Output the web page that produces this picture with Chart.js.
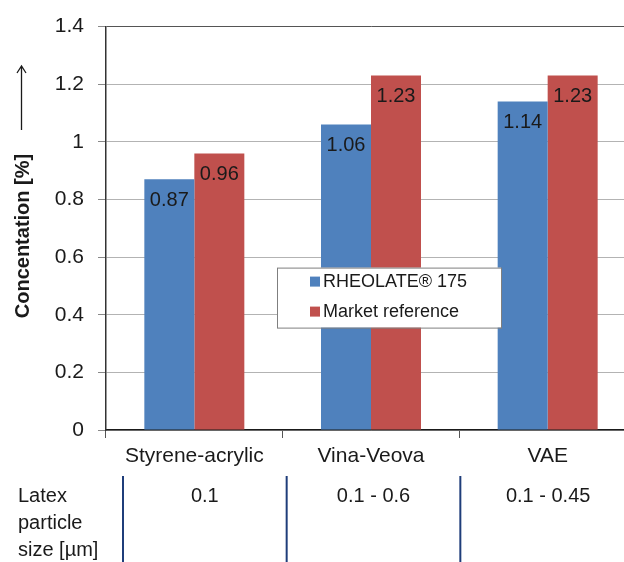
<!DOCTYPE html>
<html>
<head>
<meta charset="utf-8">
<script src="https://cdn.jsdelivr.net/npm/chart.js@4.4.1/dist/chart.umd.min.js"></script>
<style>
html,body{margin:0;padding:0;background:#fff;overflow:hidden;width:624px;height:562px;}
#wrap{position:absolute;left:0;top:0;width:636px;height:562px;}
</style>
</head>
<body>
<div id="wrap"><canvas id="c" width="636" height="562"></canvas></div>
<script>
const categories = ['Styrene-acrylic', 'Vina-Veova', 'VAE'];
const rheolateValues = [0.87, 1.06, 1.14];
const marketValues = [0.96, 1.23, 1.23];
const seriesLabels = ['RHEOLATE\u00AE 175', 'Market reference'];
const yTitle = 'Concentation [%]';
const tableHeader = ['Latex', 'particle', 'size [\u00B5m]'];
const particleSizes = ['0.1', '0.1 - 0.6', '0.1 - 0.45'];

const FONT = '"Liberation Sans", Arial, sans-serif';
const BLUE = '#4F81BD';
const RED = '#C0504D';

const decorPlugin = {
  id: 'decor',
  afterDatasetsDraw(chart) {
    const ctx = chart.ctx;
    const ca = chart.chartArea;
    const xs = chart.scales.x;
    // data labels
    ctx.save();
    ctx.font = '20px ' + FONT;
    ctx.fillStyle = '#1a1a1a';
    ctx.textAlign = 'center';
    ctx.textBaseline = 'middle';
    chart.data.datasets.forEach((ds, di) => {
      chart.getDatasetMeta(di).data.forEach((bar, i) => {
        ctx.fillText(ds.data[i].toFixed(2), bar.x, bar.y + 21);
      });
    });
    ctx.restore();

    // legend box
    ctx.save();
    const lx = ca.left + 171, ly = ca.top + 241, lw = 224, lh = 60;
    ctx.fillStyle = '#fff';
    ctx.fillRect(lx, ly, lw, lh);
    ctx.strokeStyle = '#7f7f7f';
    ctx.lineWidth = 1;
    ctx.strokeRect(lx + 0.5, ly + 0.5, lw, lh);
    ctx.font = '18px ' + FONT;
    ctx.textBaseline = 'middle';
    ctx.textAlign = 'left';
    chart.data.datasets.forEach((ds, di) => {
      const cy = ly + 14 + di * 30;
      ctx.fillStyle = ds.backgroundColor;
      ctx.fillRect(lx + 33, cy - 5, 10, 10);
      ctx.fillStyle = '#1a1a1a';
      ctx.fillText(ds.label, lx + 46, cy);
    });
    ctx.restore();

    // y title + arrow
    ctx.save();
    ctx.translate(23, 236);
    ctx.rotate(-Math.PI / 2);
    ctx.font = 'bold 20px ' + FONT;
    ctx.fillStyle = '#1a1a1a';
    ctx.textAlign = 'center';
    ctx.textBaseline = 'middle';
    ctx.fillText(yTitle, 0, 0);
    ctx.restore();
    ctx.save();
    ctx.strokeStyle = '#1a1a1a';
    ctx.lineWidth = 1.3;
    ctx.beginPath();
    ctx.moveTo(21.5, 130);
    ctx.lineTo(21.5, 66);
    ctx.moveTo(17, 73);
    ctx.lineTo(21.5, 66);
    ctx.lineTo(26, 73);
    ctx.stroke();
    ctx.restore();

    // table below
    ctx.save();
    ctx.font = '20px ' + FONT;
    ctx.fillStyle = '#1a1a1a';
    ctx.textBaseline = 'middle';
    ctx.textAlign = 'left';
    tableHeader.forEach((t, i) => ctx.fillText(t, 18, 496 + i * 27));
    const half = (xs.getPixelForValue(1) - xs.getPixelForValue(0)) / 2;
    const b1 = xs.getPixelForValue(0) + half;
    const b2 = xs.getPixelForValue(1) + half;
    const dividers = [ca.left + 17, b1 + 4, b2 + 1, chart.width];
    ctx.strokeStyle = '#1F3D7A';
    ctx.lineWidth = 2;
    for (let i = 0; i < 3; i++) {
      ctx.beginPath();
      ctx.moveTo(dividers[i], 476);
      ctx.lineTo(dividers[i], 562);
      ctx.stroke();
    }
    ctx.textAlign = 'center';
    particleSizes.forEach((s, i) => {
      ctx.fillText(s, (dividers[i] + dividers[i + 1]) / 2, 496);
    });
    ctx.restore();
  }
};

new Chart(document.getElementById('c'), {
  type: 'bar',
  data: {
    labels: categories,
    datasets: [
      { label: seriesLabels[0], data: rheolateValues, backgroundColor: BLUE },
      { label: seriesLabels[1], data: marketValues, backgroundColor: RED }
    ]
  },
  options: {
    responsive: false,
    animation: false,
    devicePixelRatio: 1,
    layout: { padding: { top: 26, left: 0, right: 0, bottom: 0 } },
    plugins: { legend: { display: false }, tooltip: { enabled: false } },
    datasets: { bar: { categoryPercentage: 0.566, barPercentage: 1 } },
    scales: {
      x: {
        afterFit(s) { s.height = 132; },
        grid: { offset: true, drawOnChartArea: false, drawTicks: true, tickLength: 8, tickColor: '#555', lineWidth: 1 },
        border: { color: '#1a1a1a', width: 1.5 },
        ticks: { font: { family: FONT, size: 21 }, color: '#1a1a1a', padding: 6 }
      },
      y: {
        min: 0, max: 1.4,
        afterFit(s) { s.width = 106; },
        grid: {
          color: (c) => (c.tick && c.tick.value >= 1.39 ? '#555' : '#b3b3b3'),
          tickColor: '#888',
          tickLength: 8,
          lineWidth: 1
        },
        border: { color: '#333', width: 1.5 },
        ticks: {
          stepSize: 0.2,
          font: { family: FONT, size: 21 },
          color: '#1a1a1a',
          padding: 14,
          callback: (v) => String(Math.round(v * 10) / 10)
        }
      }
    }
  },
  plugins: [decorPlugin]
});
</script>
</body>
</html>
